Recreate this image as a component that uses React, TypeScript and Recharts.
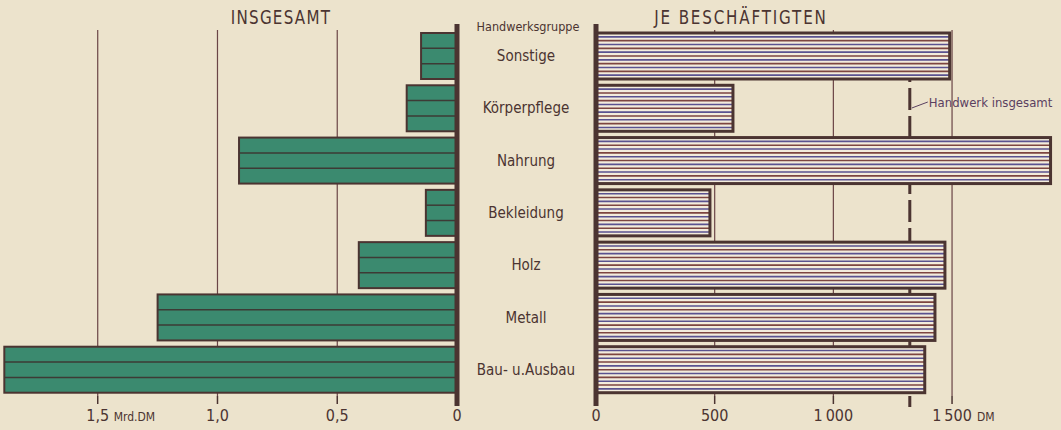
import { BarChart, Bar, XAxis, YAxis, CartesianGrid, ReferenceLine } from "recharts";

const categories = ["Sonstige", "Körperpflege", "Nahrung", "Bekleidung", "Holz", "Metall", "Bau- u.Ausbau"];
const totalValues = [0.15, 0.21, 0.91, 0.13, 0.41, 1.25, 1.89]; // Mrd. DM
const perEmployeeValues = [1490, 577, 1915, 480, 1470, 1428, 1385]; // DM
const craftAverage = 1322;

const leftTicks = [0, 0.5, 1, 1.5];
const leftTickLabels = ["0", "0,5", "1,0", "1,5"];
const rightTicks = [0, 500, 1000, 1500];
const rightTickLabels = ["0", "500", "1\u2009000", "1\u2009500"];

const leftData = categories.map((name, i) => ({ name, value: totalValues[i] }));
const rightData = categories.map((name, i) => ({ name, value: perEmployeeValues[i] }));

const bg = "#ece3cc";
const ink = "#4b3431";
const green = "#3b8a6f";
const font = "'DejaVu Sans Condensed', 'DejaVu Sans', sans-serif";

const GreenBar = (p: any) => {
    const x0 = Math.min(p.x, p.x + p.width);
    const w = Math.abs(p.width);
    const { y, height } = p;
    return (
        <g>
            <rect x={x0} y={y} width={w} height={height} fill={green} stroke={ink} strokeWidth={2} />
            <line x1={x0} x2={x0 + w} y1={y + height / 3} y2={y + height / 3} stroke="#3d3a35" strokeWidth={1.5} />
            <line x1={x0} x2={x0 + w} y1={y + (2 * height) / 3} y2={y + (2 * height) / 3} stroke="#3d3a35" strokeWidth={1.5} />
        </g>
    );
};

const StripedBar = (p: any) => {
    const { x, y, width, height } = p;
    const n = 12;
    const lines = [];
    for (let i = 1; i < n; i++) {
        const yy = y + (i * height) / n;
        lines.push(
            <line key={i} x1={x} x2={x + width} y1={yy} y2={yy} stroke={i % 2 ? "#5a5290" : "#7d4540"} strokeWidth={1.6} />
        );
    }
    return (
        <g>
            <rect x={x} y={y} width={width} height={height} fill="#f3ecdc" />
            {lines}
            <rect x={x} y={y} width={width} height={height} fill="none" stroke={ink} strokeWidth={3} />
        </g>
    );
};

const AxisLine = (p: any) => (
    <line x1={p.x1} x2={p.x2} y1={Math.min(p.y1, p.y2) - 6} y2={Math.max(p.y1, p.y2) + 10} stroke={ink} strokeWidth={5} />
);

const DashedAvg = (p: any) => (
    <line x1={p.x1} x2={p.x2} y1={Math.min(p.y1, p.y2) + 2} y2={Math.max(p.y1, p.y2) + 11} stroke={ink} strokeWidth={3} strokeDasharray="22 6" />
);

const AvgLabel = (p: any) => {
    const { x, y } = p.viewBox;
    return (
        <g>
            <line x1={x + 2} y1={y + 78} x2={x + 18} y2={y + 72} stroke="#5a4060" strokeWidth={1} />
            <text x={x + 19} y={y + 77} fill="#5a4060" fontSize={13} fontFamily={font}>Handwerk insgesamt</text>
        </g>
    );
};

const makeTick = (values: number[], labels: string[], unit: string, unitOffset: number) => (p: any) => {
    const idx = values.indexOf(p.payload.value);
    const isLast = idx === values.length - 1;
    return (
        <g>
            <text x={p.x} y={p.y + 15} textAnchor="middle" fill={ink} fontSize={16} fontFamily={font}>
                {labels[idx]}
            </text>
            {isLast && (
                <text x={p.x + unitOffset} y={p.y + 15} fill={ink} fontSize={12} fontFamily={font}>
                    {unit}
                </text>
            )}
        </g>
    );
};

const CategoryTick = (p: any) => (
    <text x={66} y={p.y + 5} textAnchor="middle" fill={ink} fontSize={15} fontFamily={font}>
        {p.payload.value}
    </text>
);

const titleStyle: React.CSSProperties = {
    position: "absolute",
    top: 5,
    fontFamily: font,
    fontSize: 20,
    color: ink,
    whiteSpace: "nowrap",
};

const chartMargin = { top: 30, right: 0, bottom: 0, left: 0 };

export default function App() {
    return (
        <div style={{ position: "absolute", left: 0, top: 0, width: 1061, height: 430, background: bg, overflow: "hidden" }}>
            <div style={{ ...titleStyle, left: 281, letterSpacing: 1.5, transform: "translateX(-50%) scaleX(0.84)" }}>INSGESAMT</div>
            <div style={{ ...titleStyle, left: 741, letterSpacing: 2.2, transform: "translateX(-50%) scaleX(0.84)" }}>JE BESCHÄFTIGTEN</div>
            <div style={{ position: "absolute", left: 528, top: 19, transform: "translateX(-50%)", fontFamily: font, fontSize: 12.5, color: ink, whiteSpace: "nowrap" }}>
                Handwerksgruppe
            </div>

            {/* back layer of the right panel: grid, ticks, labels, average line */}
            <div style={{ position: "absolute", left: 460, top: 0 }}>
                <BarChart width={601} height={430} data={rightData} layout="vertical" margin={chartMargin}>
                    <CartesianGrid horizontal={false} stroke="#6a4546" strokeWidth={1.2} syncWithTicks />
                    <XAxis
                        type="number"
                        domain={[0, 1959]}
                        allowDataOverflow
                        ticks={rightTicks}
                        interval={0}
                        height={34}
                        axisLine={false}
                        tickSize={8}
                        tickLine={{ stroke: ink, strokeWidth: 1.5 }}
                        tick={makeTick(rightTicks, rightTickLabels, "DM", 25)}
                    />
                    <YAxis type="category" dataKey="name" width={136} axisLine={false} tickLine={false} tick={CategoryTick} />
                    <ReferenceLine x={craftAverage} shape={DashedAvg} label={AvgLabel} />
                </BarChart>
            </div>

            {/* front layer of the right panel: bars and zero axis */}
            <div style={{ position: "absolute", left: 460, top: 0 }}>
                <BarChart width={601} height={430} data={rightData} layout="vertical" margin={chartMargin}>
                    <XAxis type="number" domain={[0, 1959]} allowDataOverflow ticks={rightTicks} height={34} axisLine={false} tickLine={false} tick={false} />
                    <YAxis type="category" dataKey="name" width={136} axisLine={false} tickLine={false} tick={false} />
                    <Bar dataKey="value" barSize={46} shape={StripedBar} isAnimationActive={false} />
                    <ReferenceLine x={0} shape={AxisLine} />
                </BarChart>
            </div>

            <div style={{ position: "absolute", left: 0, top: 0 }}>
                <BarChart width={475} height={430} data={leftData} layout="vertical" margin={{ ...chartMargin, right: 18 }}>
                    <CartesianGrid horizontal={false} stroke="#6a4546" strokeWidth={1.2} syncWithTicks />
                    <XAxis
                        type="number"
                        domain={[0, 1.908]}
                        reversed
                        allowDataOverflow
                        ticks={leftTicks}
                        interval={0}
                        height={34}
                        axisLine={false}
                        tickSize={8}
                        tickLine={{ stroke: ink, strokeWidth: 1.5 }}
                        tick={makeTick(leftTicks, leftTickLabels, "Mrd.DM", 16)}
                    />
                    <YAxis type="category" dataKey="name" hide width={0} />
                    <Bar dataKey="value" barSize={46} shape={GreenBar} isAnimationActive={false} />
                    <ReferenceLine x={0} shape={AxisLine} />
                </BarChart>
            </div>
        </div>
    );
}
